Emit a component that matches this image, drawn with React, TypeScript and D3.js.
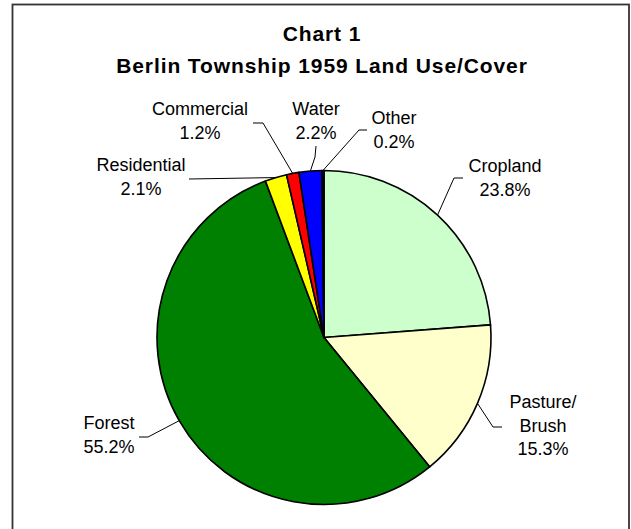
import React from 'react';
import * as d3 from 'd3';

const categories = ['Cropland', 'Pasture/Brush', 'Forest', 'Residential', 'Commercial', 'Water', 'Other'];
const values = [23.8, 15.3, 55.2, 2.1, 1.2, 2.2, 0.2];
const labelNames = [['Cropland'], ['Pasture/', 'Brush'], ['Forest'], ['Residential'], ['Commercial'], ['Water'], ['Other']];
const colors = ['#CCFFCC', '#FFFFCC', '#008000', '#FFFF00', '#FF0000', '#0000FF', '#000000'];
const titleLines = ['Chart 1', 'Berlin Township 1959 Land Use/Cover'];

// layout: label anchor (center x, first baseline) and leader elbow points
const labelLayout = [
  { x: 505, y: 172, elbow: [[454, 178], [463, 178]] },
  { x: 543, y: 408, elbow: [[493, 427], [502, 427]] },
  { x: 109, y: 429, elbow: [[148, 437], [139, 437]] },
  { x: 141, y: 171, elbow: [[189, 179]] },
  { x: 200, y: 115, elbow: [[263, 123], [253, 123]] },
  { x: 316, y: 115, elbow: [[315, 157], [316, 146]] },
  { x: 394, y: 124, elbow: [[359, 130], [367, 130]] },
];

const W = 631;
const H = 529;
const cx = 324;
const cy = 337.5;
const R = 167;
const FONT = "'Liberation Sans', Arial, sans-serif";

export default function App() {
  const pie = d3.pie<number>().sort(null).startAngle(0).endAngle(2 * Math.PI)(values);
  const arc = d3.arc<d3.PieArcDatum<number>>().innerRadius(0).outerRadius(R);
  const lineGen = d3.line();

  return (
    <svg width={W} height={H} style={{ position: 'absolute', left: 0, top: 0, display: 'block', background: '#fff' }}>
      <rect x={0} y={0} width={W} height={H} fill="#fff" />
      <rect x={12.5} y={4.5} width={616.5} height={H + 10} fill="none" stroke="#333" strokeWidth={1.8} />
      <g fontFamily={FONT} fontWeight="bold" fontSize={21} textAnchor="middle" fill="#000" letterSpacing={0.9}>
        <text x={322} y={41}>{titleLines[0]}</text>
        <text x={322} y={73}>{titleLines[1]}</text>
      </g>
      <g transform={`translate(${cx},${cy})`}>
        {pie.map((d, i) => (
          <path key={categories[i]} d={arc(d) || ''} fill={colors[i]} stroke="#000" strokeWidth={1.6} strokeLinejoin="round" />
        ))}
      </g>
      {pie.map((d, i) => {
        const mid = (d.startAngle + d.endAngle) / 2;
        const edge: [number, number] = [cx + R * Math.sin(mid), cy - R * Math.cos(mid)];
        const pts = [edge, ...(labelLayout[i].elbow as [number, number][])];
        return <path key={'l' + i} d={lineGen(pts) || ''} fill="none" stroke="#000" strokeWidth={1} />;
      })}
      <g fontFamily={FONT} fontSize={18} textAnchor="middle" fill="#000">
        {categories.map((c, i) => {
          const lines = [...labelNames[i], values[i].toFixed(1) + '%'];
          return (
            <text key={'t' + c} x={labelLayout[i].x} y={labelLayout[i].y}>
              {lines.map((ln, j) => (
                <tspan key={j} x={labelLayout[i].x} dy={j === 0 ? 0 : 23.5}>{ln}</tspan>
              ))}
            </text>
          );
        })}
      </g>
    </svg>
  );
}
